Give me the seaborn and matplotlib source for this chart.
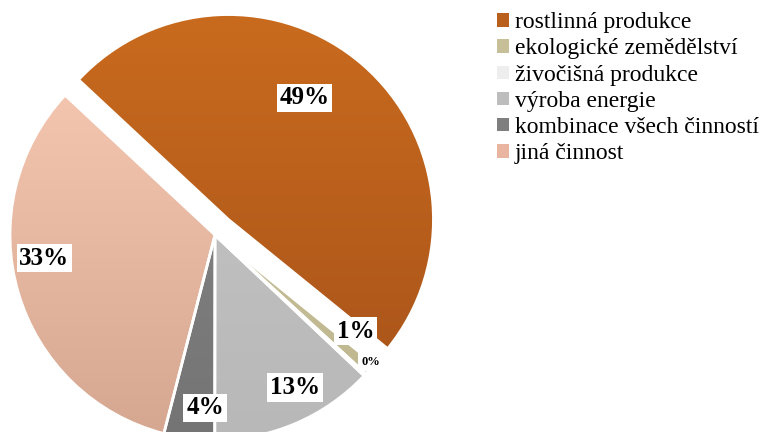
import numpy as np
import seaborn as sns
import matplotlib
matplotlib.use("Agg")
import matplotlib.pyplot as plt
from matplotlib.colors import LinearSegmentedColormap
from matplotlib.patches import Wedge, Patch

categories = ["rostlinná produkce", "ekologické zemědělství", "živočišná produkce",
              "výroba energie", "kombinace všech činností", "jiná činnost"]
shares = [49, 1, 0.2, 13, 4, 33]
pct_labels = ["49%", "1%", "0%", "13%", "4%", "33%"]

# gradient top / bottom colours of each slice
top_colors = ["#c96b1e", "#cdc6a2", "#f2f2f2", "#c6c6c6", "#888888", "#f9cbb4"]
bot_colors = ["#a7521a", "#bdb58c", "#e8e8e8", "#b8b8b8", "#747474", "#d5a690"]
legend_colors = ["#b95f1c", "#c6bf98", "#eeeeee", "#bdbdbd", "#7f7f7f", "#eab5a0"]

# label placement: polar angle (deg) and radius fraction
lab_angle = [58, -34.4, -39.3, -62.4, -93.3, 187.7]
lab_radius = [0.70, 0.83, 0.98, 0.84, 0.845, 0.84]
lab_size = [18, 18, 9, 18, 18, 18]

sns.set_theme(style="white")
plt.rcParams["font.family"] = ["Liberation Serif", "DejaVu Serif"]
plt.rcParams["text.color"] = "black"

fig = plt.figure(figsize=(7.7, 4.32), dpi=100)
ax = fig.add_axes([0, 0, 1, 1])

explode = [0.1, 0, 0, 0, 0, 0]
wedges, _ = ax.pie(shares, startangle=137, counterclock=False, explode=explode,
                   wedgeprops=dict(edgecolor="white", linewidth=2.5))

scale = 205.0
ax.axis("off")

for w, c0, c1 in zip(wedges, top_colors, bot_colors):
    cmap = LinearSegmentedColormap.from_list("g", [c1, c0])
    cx, cy = w.center
    grad = np.linspace(0, 1, 256).reshape(-1, 1)
    img = ax.imshow(grad, cmap=cmap, origin="lower", aspect="auto",
                    extent=[cx - 1, cx + 1, cy - 1, cy + 1], zorder=2)
    img.set_clip_path(w)
    edge = Wedge(w.center, w.r, w.theta1, w.theta2, facecolor="none",
                 edgecolor="white", linewidth=2, zorder=3)
    ax.add_patch(edge)

ax.set_xlim(-215 / scale, 555 / scale)
ax.set_ylim((235 - 432) / scale, 235 / scale)
ax.set_aspect("auto")

for w, txt, a, r, fs in zip(wedges, pct_labels, lab_angle, lab_radius, lab_size):
    cx, cy = w.center
    x = cx + r * np.cos(np.radians(a))
    y = cy + r * np.sin(np.radians(a))
    ax.text(x, y, txt, ha="center", va="center", fontsize=fs, fontweight="bold",
            zorder=5, bbox=dict(facecolor="white", edgecolor="none", pad=2))

handles = [Patch(facecolor=c, edgecolor="none") for c in legend_colors]
fig.legend(handles, categories, loc="upper left", bbox_to_anchor=(0.63, 1.0),
           frameon=False, fontsize=17, handlelength=0.5, handleheight=0.5,
           handletextpad=0.25, labelspacing=0.22, borderaxespad=0.12)

fig.savefig("out.png", dpi=100)
